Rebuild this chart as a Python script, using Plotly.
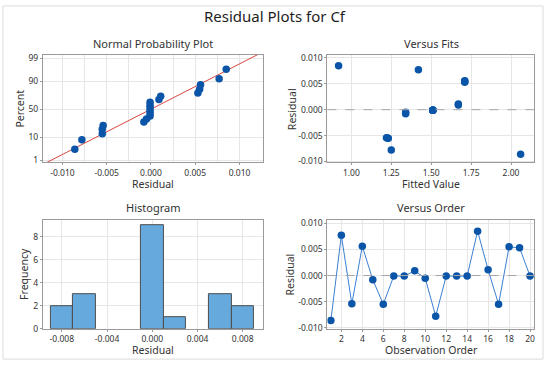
import plotly.graph_objects as go
from statistics import NormalDist, mean, stdev

# ---- data ----
observation = list(range(1, 21))
residuals = [-0.0086, 0.0077, -0.0054, 0.0056, -0.0008, -0.0055, -0.0001, -0.0001, 0.0009, -0.0005,
             -0.0078, -0.0001, -0.0001, -0.0001, 0.0085, 0.0011, -0.0055, 0.0055, 0.0053, -0.0001]
fitted = [2.06, 1.42, 1.22, 1.71, 1.34, 1.23, 1.51, 1.51, 1.67, 1.34,
          1.25, 1.51, 1.51, 1.51, 0.92, 1.67, 1.23, 1.71, 1.71, 1.51]
pct_ticks = [1, 10, 50, 90, 99]

W, H = 550, 369
FONT = "Noto Sans"
BLUE = "#0a55a8"
LINEBLUE = "#3a7fd0"
FRAME = "#9a9a9a"
GRID = "#e6e6e6"
TXT = "#333333"

nd = NormalDist()
n = len(residuals)
sr = sorted(residuals)
zs = [nd.inv_cdf((i + 1 - 0.3) / (n + 0.4)) for i in range(n)]
mu, sd = mean(residuals), stdev(residuals)
zr = [-2.42, 2.47]

def px(x):
    return x / W

def py(y):
    return 1 - y / H

fig = go.Figure()

# Normal probability plot
fig.add_trace(go.Scatter(x=[mu + z * sd for z in [-3, 3]], y=[-3, 3], mode="lines",
                         line=dict(color="#d9473f", width=1), xaxis="x", yaxis="y", hoverinfo="skip"))
fig.add_trace(go.Scatter(x=sr, y=zs, mode="markers", marker=dict(color=BLUE, size=7.5),
                         xaxis="x", yaxis="y"))
# Versus fits
fig.add_trace(go.Scatter(x=fitted, y=residuals, mode="markers", marker=dict(color=BLUE, size=7.5),
                         xaxis="x2", yaxis="y2"))
# Histogram
fig.add_trace(go.Histogram(x=residuals, xbins=dict(start=-0.009, end=0.009, size=0.002),
                           marker=dict(color="#66a9dd", line=dict(color="#4d4d4d", width=1)),
                           xaxis="x3", yaxis="y3"))
# Versus order
fig.add_trace(go.Scatter(x=observation, y=residuals, mode="lines+markers",
                         line=dict(color=LINEBLUE, width=1),
                         marker=dict(color=BLUE, size=7.5), xaxis="x4", yaxis="y4"))

tickfont = dict(family=FONT, size=8.5, color=TXT)
common = dict(showline=True, mirror=True, linecolor=FRAME, linewidth=1, showgrid=True,
              gridcolor=GRID, zeroline=False, ticks="outside", ticklen=2, tickcolor=FRAME,
              tickfont=tickfont)

xl, xr = px(43), px(263)
xl2, xr2 = px(328), px(535)
yt, yb = py(53), py(163)
yt2, yb2 = py(222), py(333)

fig.update_layout(
    width=W, height=H, margin=dict(l=0, r=0, t=0, b=0),
    paper_bgcolor="white", plot_bgcolor="white", showlegend=False, bargap=0,
    xaxis=dict(domain=[xl, xr], range=[-0.0122, 0.0126], tickvals=[-0.01, -0.005, 0, 0.005, 0.01],
               ticktext=["-0.010", "-0.005", "0.000", "0.005", "0.010"],
               minor=dict(dtick=0.0025, tick0=0, showgrid=True, gridcolor=GRID), anchor="y", **common),
    yaxis=dict(domain=[yb, yt], range=zr, tickvals=[nd.inv_cdf(p / 100) for p in pct_ticks],
               ticktext=[str(p) for p in pct_ticks], anchor="x", **common),
    xaxis2=dict(domain=[xl2, xr2], range=[0.85, 2.144], tickvals=[1.0, 1.25, 1.5, 1.75, 2.0],
                ticktext=["1.00", "1.25", "1.50", "1.75", "2.00"], anchor="y2", **common),
    yaxis2=dict(domain=[yb, yt], range=[-0.0102, 0.0106], tickvals=[-0.01, -0.005, 0, 0.005, 0.01],
                ticktext=["-0.010", "-0.005", "0.000", "0.005", "0.010"], anchor="x2", **common),
    xaxis3=dict(domain=[xl, xr], range=[-0.00967, 0.00975], tickvals=[-0.008, -0.004, 0, 0.004, 0.008],
                ticktext=["-0.008", "-0.004", "0.000", "0.004", "0.008"], anchor="y3", **common),
    yaxis3=dict(domain=[yb2, yt2], range=[0, 9.45], tickvals=[0, 2, 4, 6, 8], anchor="x3", **common),
    xaxis4=dict(domain=[xl2, xr2], range=[0.67, 20.38], tickvals=list(range(2, 21, 2)), anchor="y4", **common),
    yaxis4=dict(domain=[yb2, yt2], range=[-0.0102, 0.0106], tickvals=[-0.01, -0.005, 0, 0.005, 0.01],
                ticktext=["-0.010", "-0.005", "0.000", "0.005", "0.010"], anchor="x4", **common),
)

# reference lines at zero
for xa, ya in [("x2", "y2"), ("x4", "y4")]:
    fig.add_shape(type="line", xref=f"{xa} domain", yref=ya, x0=0, x1=1, y0=0, y1=0,
                  line=dict(color="#a6a6a6", width=1, dash="dash"))

# outer border
fig.add_shape(type="rect", xref="paper", yref="paper", x0=px(3), x1=px(544), y0=py(364), y1=py(3),
              line=dict(color="#dcdcdc", width=1), layer="below")

def ann(text, x, y, size, angle=0, color=TXT):
    fig.add_annotation(text=text, x=px(x), y=py(y), xref="paper", yref="paper",
                       showarrow=False, textangle=angle, xanchor="center", yanchor="middle",
                       font=dict(family=FONT, size=size, color=color))

ann("Residual Plots for Cf", 275, 13, 15, color="#1e1e1e")
ann("Normal Probability Plot", 153, 41, 11)
ann("Versus Fits", 432, 41, 11)
ann("Histogram", 153, 209, 11)
ann("Versus Order", 432, 209, 11)
ann("Residual", 153, 185, 10.5)
ann("Fitted Value", 432, 185, 10.5)
ann("Residual", 153, 355, 10.5)
ann("Observation Order", 432, 355, 10.5)
ann("Percent", 20, 108, 10.5, angle=-90)
ann("Residual", 292, 108, 10.5, angle=-90)
ann("Frequency", 24, 277, 10.5, angle=-90)
ann("Residual", 291, 277, 10.5, angle=-90)

fig.write_html("out.html", config={"displayModeBar": False},
               post_script="document.body.style.margin='0px';document.body.style.overflow='hidden';")
